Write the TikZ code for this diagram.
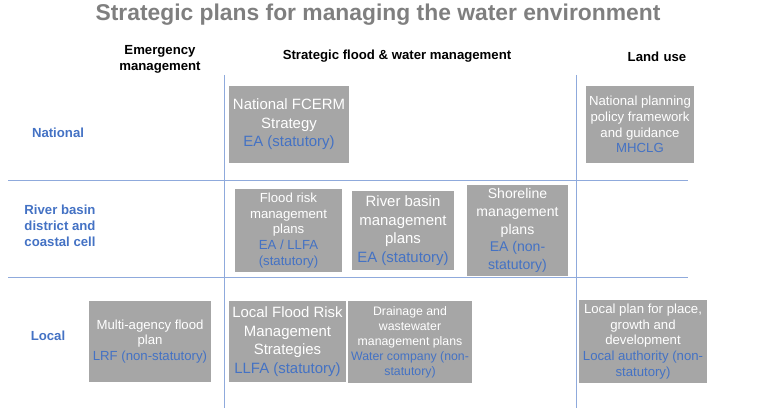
\documentclass[tikz,border=0pt]{standalone}
\usepackage{fontspec}
\setmainfont{Liberation Sans}
\usetikzlibrary{positioning}
\definecolor{boxgray}{HTML}{A6A6A6}
\definecolor{ablue}{HTML}{4472C4}
\definecolor{lineblue}{HTML}{8FAADC}
\definecolor{titlegray}{HTML}{7F7F7F}
\tikzset{
	plan/.style={fill=boxgray, text=white, align=center, font=\fontsize{7.5}{9}\selectfont, inner sep=2pt},
	rowlabel/.style={text=ablue, font=\bfseries\fontsize{7.5}{9}\selectfont, align=center},
	colhead/.style={font=\bfseries\fontsize{7.5}{9}\selectfont, align=center},
	grid/.style={lineblue, line width=0.5pt}
}
\newcommand{\who}[1]{\textcolor{ablue}{#1}}
\begin{document}
\begin{tikzpicture}[x=0.02cm, y=-0.02cm]
	\useasboundingbox (0,0) rectangle (760,408);

	\node[text=titlegray, font=\bfseries\fontsize{13}{15}\selectfont] (title) at (378,15) {Strategic plans for managing the water environment};

	\node[colhead] (hem) at (160,59) {Emergency\\management};
	\node[colhead] (hsf) at (397,56) {Strategic flood \& water management};
	\node[colhead] (hlu) at (657,57) {Land\,\,use};

	\node[rowlabel] (rnat) at (58,133) {National};
	\node[rowlabel] (rrb) at (60,226) {River basin\\district and\\coastal cell};
	\node[rowlabel] (rloc) at (48,336) {Local};

	% grid
	\coordinate (v1t) at (224,75); \coordinate (v1b) at (224,408);
	\coordinate (v2t) at (576,75); \coordinate (v2b) at (576,408);
	\coordinate (h1l) at (8,180); \coordinate (h1r) at (688,180);
	\coordinate (h2l) at (8,277); \coordinate (h2r) at (688,277);
	\draw[grid] (v1t) -- (v1b) (v2t) -- (v2b) (h1l) -- (h1r) (h2l) -- (h2r);

	% national
	\node[plan, minimum width=2.12cm, minimum height=1.54cm, font=\fontsize{8.5}{10.5}\selectfont] (fcerm) at (289,124.5) {National FCERM\\Strategy\\\who{EA (statutory)}};
	\node[plan, minimum width=1.92cm, minimum height=1.54cm] (npp) at (640,124.5) {National planning\\policy framework\\and guidance\\\who{MHCLG}};

	% river basin
	\node[plan, minimum width=2.14cm, minimum height=1.58cm] (frm) at (288.5,230.5) {Flood risk\\management\\plans\\\who{EA / LLFA}\\\who{(statutory)}};
	\node[plan, minimum width=2.04cm, minimum height=1.58cm, font=\fontsize{8.5}{10.5}\selectfont] (rbm) at (403,230.5) {River basin\\management\\plans\\\who{EA (statutory)}};
	\node[plan, minimum width=2.02cm, minimum height=1.58cm, font=\fontsize{8}{10}\selectfont] (smp) at (517.5,230.5) {Shoreline\\management\\plans\\\who{EA (non-}\\\who{statutory)}};

	% local
	\node[plan, minimum width=2.32cm, minimum height=1.62cm] (maf) at (150,341.5) {Multi-agency flood\\plan\\\who{LRF (non-statutory)}};
	\node[plan, minimum width=2.18cm, minimum height=1.62cm, font=\fontsize{8.5}{10.5}\selectfont] (lfrm) at (287.5,341.5) {Local Flood Risk\\Management\\Strategies\\\who{LLFA (statutory)}};
	\node[plan, minimum width=2.24cm, minimum height=1.64cm, font=\fontsize{7}{8.5}\selectfont] (dwm) at (410,342) {Drainage and\\wastewater\\management plans\\\who{Water company (non-}\\\who{statutory)}};
	\node[plan, minimum width=2.24cm, minimum height=1.62cm] (lpp) at (643,341.5) {Local plan for place,\\growth and\\development\\\who{Local authority (non-}\\\who{statutory)}};
\end{tikzpicture}
\end{document}
